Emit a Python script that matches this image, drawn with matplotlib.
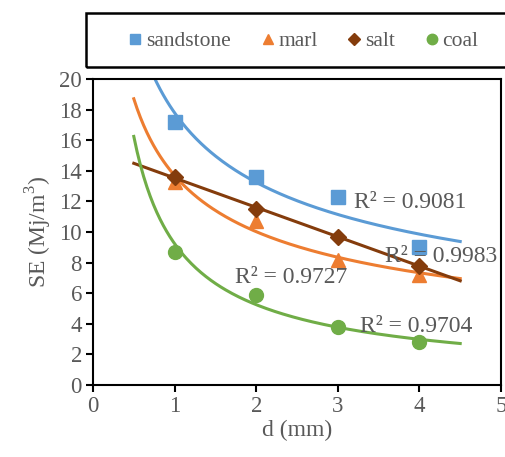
import numpy as np
import matplotlib
matplotlib.use("Agg")
import matplotlib.pyplot as plt
from matplotlib.patches import Rectangle

plt.rcParams['font.family'] = ['Liberation Serif', 'DejaVu Serif']
plt.rcParams['mathtext.fontset'] = 'custom'
plt.rcParams['mathtext.rm'] = 'Liberation Serif'

# datos
d = [1, 2, 3, 4]
sandstone = [17.2, 13.6, 12.3, 9.0]
marl = [13.3, 10.7, 8.2, 7.2]
salt = [13.6, 11.5, 9.7, 7.8]
coal = [8.7, 5.9, 3.8, 2.8]
r2_labels = ['R² = 0.9081', 'R² = 0.9983', 'R² = 0.9727', 'R² = 0.9704']

gris = '#595959'
colores = {'sandstone': '#5B9BD5', 'marl': '#ED7D31', 'salt': '#843C0C', 'coal': '#70AD47'}
marcadores = {'sandstone': 's', 'marl': '^', 'salt': 'D', 'coal': 'o'}
tamanos = {'sandstone': 10, 'marl': 10, 'salt': 8, 'coal': 10}
series = {'sandstone': sandstone, 'marl': marl, 'salt': salt, 'coal': coal}
tipo_ajuste = {'sandstone': 'power', 'marl': 'power', 'salt': 'linear', 'coal': 'power'}

fig = plt.figure(figsize=(5.05, 4.57), dpi=100)
ax = fig.add_axes([93 / 505, 1 - 385 / 457, 408 / 505, 306 / 457])

xs = np.linspace(0.5, 4.5, 200)
x = np.array(d, dtype=float)
for nombre, valores in series.items():
    y = np.array(valores)
    if tipo_ajuste[nombre] == 'power':
        b, lna = np.polyfit(np.log(x), np.log(y), 1)
        ys = np.exp(lna) * xs ** b
    else:
        m, c = np.polyfit(x, y, 1)
        ys = m * xs + c
    ax.plot(xs, ys, color=colores[nombre], lw=2.2, zorder=2)
    ax.plot(x, y, linestyle='none', marker=marcadores[nombre], ms=tamanos[nombre],
            color=colores[nombre], label=nombre, zorder=3)

# etiquetas R²
pos_r2 = [(3.2, 11.95), (3.58, 8.4), (1.74, 7.05), (3.27, 3.8)]
for texto, (px, py) in zip(r2_labels, pos_r2):
    ax.text(px, py, texto, fontsize=17, color=gris, va='center', ha='left', zorder=4)

ax.set_xlim(0, 5)
ax.set_ylim(0, 20)
ax.set_xticks(range(0, 6))
ax.set_yticks(range(0, 21, 2))
for s in ax.spines.values():
    s.set_linewidth(1.5)
    s.set_color('black')
ax.tick_params(direction='out', length=5, width=1.5, labelsize=16.5, labelcolor=gris, pad=3)
ax.set_xlabel('d (mm)', fontsize=17, color=gris, labelpad=2)
ax.set_ylabel('SE (Mj/m$^3$)', fontsize=17, color=gris, labelpad=4)

# leyenda con marco manual
fig.patches.append(Rectangle((86 / 505, 1 - 67 / 457), 430 / 505, 54 / 457,
                             transform=fig.transFigure, fill=False, ec='black', lw=1.8))
fig.legend(loc='center', bbox_to_anchor=(302 / 505, 1 - 41 / 457), ncol=4, frameon=False,
           fontsize=15.5, labelcolor=gris, handletextpad=0.05, columnspacing=1.25,
           handlelength=0.9, markerscale=0.75)

fig.savefig('out.png', dpi=100)
